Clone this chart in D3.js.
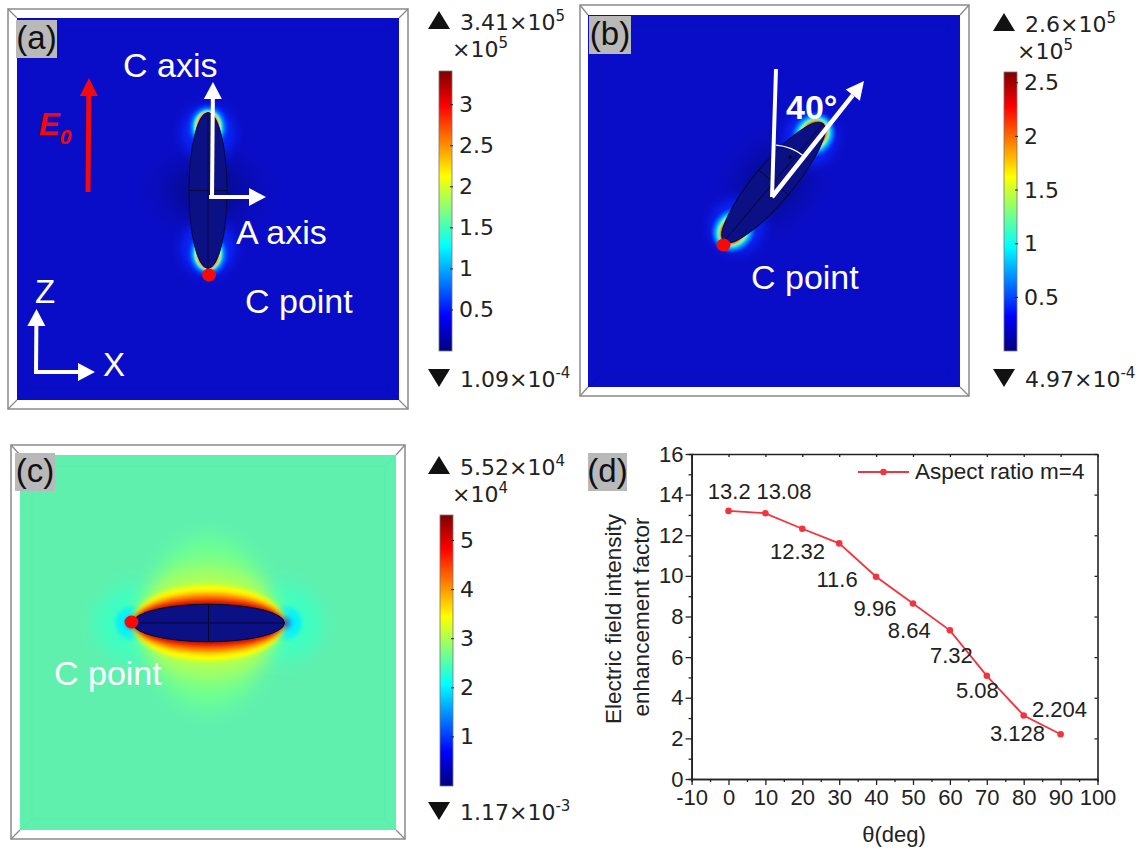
<!DOCTYPE html>
<html>
<head>
<meta charset="utf-8">
<script src="https://cdn.jsdelivr.net/npm/d3@7"></script>
<style>
  html, body { margin: 0; padding: 0; background: #fff; }
  svg { display: block; }
  text { font-family: "Liberation Sans", Arial, sans-serif; }
  .comsol text { font-family: "DejaVu Sans", sans-serif; }
</style>
</head>
<body>
<div id="chart"></div>
<script>
// panel (d) data
var THETA = [0, 10, 20, 30, 40, 50, 60, 70, 80, 90];
var FACTOR = [13.2, 13.08, 12.32, 11.6, 9.96, 8.64, 7.32, 5.08, 3.128, 2.204];
var FACTOR_LABELS = ["13.2", "13.08", "12.32", "11.6", "9.96", "8.64", "7.32", "5.08", "3.128", "2.204"];
var X_TICKS = [-10, 0, 10, 20, 30, 40, 50, 60, 70, 80, 90, 100];
var Y_TICKS = [0, 2, 4, 6, 8, 10, 12, 14, 16];

// colour bars
var JET = ["#00007f", "#0000ff", "#007fff", "#00ffff", "#7fff7f", "#ffff00", "#ff7f00", "#ff0000", "#7f0000"];
var BAR_A_TICKS = [0.5, 1, 1.5, 2, 2.5, 3];
var BAR_B_TICKS = [0.5, 1, 1.5, 2, 2.5];
var BAR_C_TICKS = [1, 2, 3, 4, 5];
var BAR_A_MAX = 3.41;
var BAR_B_MAX = 2.6;
var BAR_C_MAX = 5.52;

// field contours, values in colour bar units
// half sizes are in units of the particle's long semi axis
var TIP_VALUES = [0.6, 0.85, 1.15, 1.6, 2.1, 2.8];
var TIP_LONG = [0.29, 0.255, 0.225, 0.21, 0.2, 0.19];
var TIP_SHORT = [0.26, 0.22, 0.19, 0.17, 0.155, 0.14];

var HOT_VALUES = [2.65, 2.8, 3.05, 3.45, 3.95, 4.5, 5.2];
var HOT_LONG = [0.85, 0.9, 0.95, 1.0, 1.0, 1.0, 1.0];
var HOT_SHORT = [1.15, 0.85, 0.66, 0.5, 0.41, 0.35, 0.29];
var COLD_VALUES = [2.4, 2.0, 1.5, 0.8];
var COLD_SIZE = [0.5, 0.22, 0.1, 0.05];

var width = 1143, height = 850;
var svg = d3.select("#chart").append("svg")
  .attr("width", width)
  .attr("height", height);

var defs = svg.append("defs");
function addBlur(id, amount){
  defs.append("filter").attr("id", id).attr("x", "-60%").attr("y", "-60%").attr("width", "220%").attr("height", "220%")
    .append("feGaussianBlur").attr("stdDeviation", amount);
}
addBlur("blur1", 1.2);
addBlur("blur2", 2);
addBlur("blur8", 9);

var dark = defs.append("radialGradient").attr("id", "darkGlow");
dark.append("stop").attr("offset", "0%").attr("stop-color", "#060a70").attr("stop-opacity", 0.85);
dark.append("stop").attr("offset", "35%").attr("stop-color", "#060a80").attr("stop-opacity", 0.55);
dark.append("stop").attr("offset", "100%").attr("stop-color", "#0a0dc8").attr("stop-opacity", 0);
var bright = defs.append("radialGradient").attr("id", "tipHalo");
bright.append("stop").attr("offset", "0%").attr("stop-color", "#0a40ff").attr("stop-opacity", 1);
bright.append("stop").attr("offset", "60%").attr("stop-color", "#0a22f4").attr("stop-opacity", 0.85);
bright.append("stop").attr("offset", "100%").attr("stop-color", "#0a0dc8").attr("stop-opacity", 0);

var jetScale = d3.scaleLinear()
  .domain(JET.map(function(d, i){ return i / (JET.length - 1); }))
  .range(JET);

function arrowHead(g, x1, y1, x2, y2, color, w, len){
  var a = Math.atan2(y2 - y1, x2 - x1);
  var bx = x2 - len * Math.cos(a), by = y2 - len * Math.sin(a);
  var px = Math.sin(a) * w / 2, py = -Math.cos(a) * w / 2;
  g.append("path")
    .attr("d", "M" + x2 + "," + y2 + "L" + (bx + px) + "," + (by + py) + "L" + (bx - px) + "," + (by - py) + "Z")
    .attr("fill", color);
  return [bx, by];
}

function arrow(g, x1, y1, x2, y2, color, sw, w, len){
  var b = arrowHead(g, x1, y1, x2, y2, color, w, len);
  g.append("line")
    .attr("x1", x1).attr("y1", y1).attr("x2", b[0]).attr("y2", b[1])
    .attr("stroke", color).attr("stroke-width", sw);
}

// white frame around a field with the darker inner square
function frame(g, o, f, inner, fill, innerStroke){
  g.append("rect").attr("x", o[0]).attr("y", o[1]).attr("width", o[2] - o[0]).attr("height", o[3] - o[1])
    .attr("fill", "#fff").attr("stroke", "#8a8a8a").attr("stroke-width", 1.5);
  g.append("rect").attr("x", f[0]).attr("y", f[1]).attr("width", f[2] - f[0]).attr("height", f[3] - f[1])
    .attr("fill", fill);
  g.append("rect").attr("x", inner[0]).attr("y", inner[1]).attr("width", inner[2] - inner[0]).attr("height", inner[3] - inner[1])
    .attr("fill", "none").attr("stroke", innerStroke).attr("stroke-width", 1);
  var corners = [[0, 1], [2, 1], [0, 3], [2, 3]];
  corners.forEach(function(c){
    g.append("line").attr("x1", o[c[0]]).attr("y1", o[c[1]]).attr("x2", f[c[0]]).attr("y2", f[c[1]])
      .attr("stroke", "#8a8a8a").attr("stroke-width", 1.3);
    g.append("line").attr("x1", f[c[0]]).attr("y1", f[c[1]]).attr("x2", inner[c[0]]).attr("y2", inner[c[1]])
      .attr("stroke", innerStroke).attr("stroke-width", 1);
  });
}

function panelLabel(x, y, w, h, txt){
  svg.append("rect").attr("x", x).attr("y", y).attr("width", w).attr("height", h).attr("fill", "#b9b9b9");
  svg.append("text").attr("x", x + w / 2).attr("y", y + h - 9).attr("text-anchor", "middle")
    .attr("font-size", 33).attr("fill", "#111").text(txt);
}

function label(g, x, y, txt, size, color){
  return g.append("text").attr("x", x).attr("y", y).attr("font-size", size)
    .attr("fill", color || "#fff").text(txt);
}

// tick bar with the triangles, like comsol draws it
function colorBar(opts){
  var g = svg.append("g").attr("class", "comsol");
  var id = "bar" + opts.id;
  var grad = defs.append("linearGradient").attr("id", id).attr("x1", 0).attr("y1", 1).attr("x2", 0).attr("y2", 0);
  JET.forEach(function(c, i){
    grad.append("stop").attr("offset", (100 * i / (JET.length - 1)) + "%").attr("stop-color", c);
  });
  var y = d3.scaleLinear().domain([0, opts.max]).range([opts.bottom, opts.top]);
  g.append("rect").attr("x", opts.x).attr("y", opts.top).attr("width", 13).attr("height", opts.bottom - opts.top)
    .attr("fill", "url(#" + id + ")").attr("stroke", "#777").attr("stroke-width", 0.8);
  var axis = d3.axisRight(y).tickValues(opts.ticks).tickSize(0).tickPadding(7).tickFormat(function(d){ return d; });
  var ag = g.append("g").attr("transform", "translate(" + (opts.x + 13) + ",0)").call(axis);
  ag.select(".domain").remove();
  ag.selectAll("text").attr("font-size", 22).attr("fill", "#222").attr("font-family", "DejaVu Sans");
  g.selectAll("line.mark").data(opts.ticks).join("line").attr("class", "mark")
    .attr("x1", opts.x + 11).attr("x2", opts.x + 14)
    .attr("y1", function(d){ return y(d); }).attr("y2", function(d){ return y(d); })
    .attr("stroke", "#222").attr("stroke-width", 1);

  var t = opts.triX;
  g.append("path").attr("d", "M" + (t + 11) + "," + opts.upY + "l11,18h-22z").attr("fill", "#111");
  g.append("path").attr("d", "M" + (t + 11) + "," + (opts.downY + 18) + "l11,-18h-22z").attr("fill", "#111");

  function sci(x, yy, lead, exp){
    var tx = g.append("text").attr("x", x).attr("y", yy).attr("font-size", 22).attr("fill", "#222");
    tx.append("tspan").text(lead);
    tx.append("tspan").attr("dy", -9).attr("font-size", 15).text(exp);
  }
  sci(t + 32, opts.upY + 19, opts.maxLabel + "\u00d710", opts.maxExp);
  sci(t + 24, opts.upY + 46, "\u00d710", opts.maxExp);
  sci(t + 32, opts.downY + 18, opts.minLabel + "\u00d710", opts.minExp);
}

// glow at one particle tip, drawn as nested contours
function tipGlow(g, unit, tipSign, barMax){
  var idx = d3.range(TIP_VALUES.length);
  g.append("ellipse")
    .attr("cy", tipSign * unit(0.74))
    .attr("rx", unit(0.5)).attr("ry", unit(0.5))
    .attr("fill", "url(#tipHalo)");
  g.append("g").attr("filter", "url(#blur1)")
    .selectAll("ellipse").data(idx).join("ellipse")
    .attr("cx", 0)
    .attr("cy", function(){ return tipSign * unit(0.81); })
    .attr("rx", function(i){ return unit(TIP_SHORT[i]); })
    .attr("ry", function(i){ return unit(TIP_LONG[i]); })
    .attr("fill", function(i){ return jetScale(TIP_VALUES[i] / barMax); });
}

// particle with its two cross lines, long axis along local y
function particle(g, unit, aspect, stroke){
  g.append("ellipse").attr("rx", unit(1 / aspect)).attr("ry", unit(1))
    .attr("fill", "#0c1085").attr("stroke", stroke).attr("stroke-width", 1);
  g.append("line").attr("x1", -unit(1 / aspect)).attr("x2", unit(1 / aspect)).attr("y1", 0).attr("y2", 0)
    .attr("stroke", stroke).attr("stroke-width", 1);
  g.append("line").attr("x1", 0).attr("x2", 0).attr("y1", -unit(1)).attr("y2", unit(1))
    .attr("stroke", stroke).attr("stroke-width", 1);
}

/* ---------- panel a ---------- */
var a = svg.append("g");
frame(a, [8, 9, 408, 409], [17, 18, 399, 400], [29, 30, 388, 388], "#0a0dc8", "#0a0cb4");
var unitA = d3.scaleLinear().domain([0, 1]).range([0, 78]);
var partA = a.append("g").attr("transform", "translate(208,190.5)");
partA.append("ellipse").attr("rx", 82).attr("ry", 62).attr("fill", "url(#darkGlow)");
tipGlow(partA, unitA, -1, BAR_A_MAX);
tipGlow(partA, unitA, 1, BAR_A_MAX);
particle(partA, unitA, 4.1, "#060a3c");
a.append("ellipse").attr("cx", 209).attr("cy", 275).attr("rx", 7).attr("ry", 6.5).attr("fill", "#f80808");
arrow(a, 88, 192, 89, 78, "#f40a0a", 5, 18, 18);
var e0 = label(a, 39, 135, "E", 31, "#f00a0a").attr("font-weight", "bold").attr("font-style", "italic");
e0.append("tspan").attr("dy", 9).attr("font-size", 21).text("0");
arrow(a, 212, 198, 213, 82, "#fff", 4, 18, 17);
arrow(a, 209, 197, 266, 197, "#fff", 4, 18, 17);
arrow(a, 36, 374, 36.5, 309, "#fff", 4, 18, 17);
arrow(a, 34, 372, 95, 372, "#fff", 4, 18, 17);
label(a, 123, 77, "C axis", 34);
label(a, 236, 244, "A axis", 34);
label(a, 245, 313, "C point", 34);
label(a, 35, 303, "Z", 33);
label(a, 103, 376, "X", 33);
panelLabel(16, 20, 41, 38, "(a)");

/* ---------- panel b ---------- */
var b = svg.append("g");
frame(b, [580, 5, 969, 396], [588, 15, 960, 387], [600, 26, 949, 376], "#0a0dc8", "#0a0cb4");
var unitB = d3.scaleLinear().domain([0, 1]).range([0, 77]);
var partB = b.append("g").attr("transform", "translate(773.5,182.5) rotate(40)");
partB.append("ellipse").attr("rx", 62).attr("ry", 80).attr("fill", "url(#darkGlow)");
tipGlow(partB, unitB, -1, BAR_B_MAX);
tipGlow(partB, unitB, 1, BAR_B_MAX);
particle(partB, unitB, 4, "#060a3c");
b.append("circle").attr("cx", 790).attr("cy", 157).attr("r", 1.6).attr("fill", "#000");
b.append("ellipse").attr("cx", 723.5).attr("cy", 245).attr("rx", 7).attr("ry", 6.5).attr("fill", "#f80808");
b.append("line").attr("x1", 776).attr("y1", 69).attr("x2", 772).attr("y2", 197)
  .attr("stroke", "#fff").attr("stroke-width", 4);
arrow(b, 772, 197, 864, 81, "#fff", 4.5, 18, 18);
b.append("path")
  .attr("transform", "translate(772,196)")
  .attr("d", d3.arc()({ innerRadius: 51, outerRadius: 51, startAngle: 0.08, endAngle: 0.66 }))
  .attr("fill", "none").attr("stroke", "#fff").attr("stroke-width", 1.4);
label(b, 786, 119, "40\u00b0", 34).attr("font-weight", "bold");
label(b, 751, 289, "C point", 34);
panelLabel(589, 16, 42, 38, "(b)");

/* ---------- panel c ---------- */
var c = svg.append("g");
frame(c, [11, 445, 405, 839], [20, 455, 396, 830], [32, 466, 385, 819], "#60f0ae", "#56ebaf");
var unitC = d3.scaleLinear().domain([0, 1]).range([0, 76]);
var partC = c.append("g").attr("transform", "translate(208.5,623)");

function contourLayer(parent, filter, idx, vals, rxVals, ryVals, cx){
  parent.append("g").attr("filter", filter)
    .selectAll("ellipse").data(idx).join("ellipse")
    .attr("cx", cx)
    .attr("rx", function(i){ return unitC(rxVals[i]); })
    .attr("ry", function(i){ return unitC(ryVals[i]); })
    .attr("fill", function(i){ return jetScale(vals[i] / BAR_C_MAX); });
}
[-1, 1].forEach(function(s){
  contourLayer(partC, "url(#blur8)", [0], COLD_VALUES, COLD_SIZE, COLD_SIZE, s * unitC(1));
  contourLayer(partC, "url(#blur2)", [1, 2, 3], COLD_VALUES, COLD_SIZE, COLD_SIZE, s * unitC(1));
});
contourLayer(partC, "url(#blur8)", [0, 1, 2], HOT_VALUES, HOT_LONG, HOT_SHORT, 0);
contourLayer(partC, "url(#blur2)", [3, 4, 5, 6], HOT_VALUES, HOT_LONG, HOT_SHORT, 0);
var innerC = partC.append("g").attr("transform", "rotate(90)");
particle(innerC, unitC, 4.05, "#04062a");
c.append("ellipse").attr("cx", 131.5).attr("cy", 622).attr("rx", 7).attr("ry", 6.5).attr("fill", "#f80808");
label(c, 54, 685, "C point", 34);
panelLabel(15, 453, 40, 38, "(c)");

/* ---------- colour bars ---------- */
colorBar({ id: "a", x: 439, top: 71, bottom: 351, max: BAR_A_MAX, ticks: BAR_A_TICKS, triX: 428, upY: 11, downY: 369,
  maxLabel: "3.41", maxExp: "5", minLabel: "1.09", minExp: "-4" });
colorBar({ id: "b", x: 1004, top: 72, bottom: 351, max: BAR_B_MAX, ticks: BAR_B_TICKS, triX: 993, upY: 13, downY: 369,
  maxLabel: "2.6", maxExp: "5", minLabel: "4.97", minExp: "-4" });
colorBar({ id: "c", x: 440, top: 515, bottom: 786, max: BAR_C_MAX, ticks: BAR_C_TICKS, triX: 428, upY: 456, downY: 802,
  maxLabel: "5.52", maxExp: "4", minLabel: "1.17", minExp: "-3" });

/* ---------- panel d ---------- */
var d = svg.append("g");
var xScale = d3.scaleLinear().domain([-10, 100]).range([691.6, 1097.5]);
var yScale = d3.scaleLinear().domain([0, 16]).range([779, 454]);
var xMinor = d3.range(-5, 100, 10);
var yMinor = d3.range(1, 16, 2);

function styleAxis(g){
  g.selectAll(".domain").attr("stroke", "#222").attr("stroke-width", 1.6);
  g.selectAll("line").attr("stroke", "#222").attr("stroke-width", 1.3);
  g.selectAll("text").attr("font-size", 22).attr("fill", "#222").attr("font-family", "Liberation Sans");
}
function plainTick(v){ return String(v); }

// bottom and left read outward, top and right have inward ticks only
d.append("g").attr("transform", "translate(0,779)")
  .call(d3.axisBottom(xScale).tickValues(xMinor).tickSize(3).tickFormat(""))
  .call(styleAxis);
d.append("g").attr("transform", "translate(0,779)")
  .call(d3.axisBottom(xScale).tickValues(X_TICKS).tickSize(6).tickSizeOuter(0).tickPadding(4).tickFormat(plainTick))
  .call(styleAxis);
d.append("g").attr("transform", "translate(691.6,0)")
  .call(d3.axisLeft(yScale).tickValues(yMinor).tickSize(3).tickFormat(""))
  .call(styleAxis);
d.append("g").attr("transform", "translate(691.6,0)")
  .call(d3.axisLeft(yScale).tickValues(Y_TICKS).tickSize(6).tickSizeOuter(0).tickPadding(2).tickFormat(plainTick))
  .call(styleAxis);
d.append("g").attr("transform", "translate(0,454)")
  .call(d3.axisBottom(xScale).tickValues(X_TICKS).tickSize(3).tickSizeOuter(0).tickFormat(""))
  .call(styleAxis);
d.append("g").attr("transform", "translate(1097.5,0)")
  .call(d3.axisRight(yScale).tickValues(Y_TICKS).tickSize(-3).tickSizeOuter(0).tickFormat(""))
  .call(styleAxis);

var lineColor = "#f2343f";
var lineGen = d3.line()
  .x(function(v, i){ return xScale(THETA[i]); })
  .y(function(v){ return yScale(v); });
d.append("path").datum(FACTOR).attr("d", lineGen)
  .attr("fill", "none").attr("stroke", lineColor).attr("stroke-width", 1.8);
d.selectAll("circle.pt").data(FACTOR).join("circle").attr("class", "pt")
  .attr("cx", function(v, i){ return xScale(THETA[i]); })
  .attr("cy", function(v){ return yScale(v); })
  .attr("r", 3.3).attr("fill", lineColor);

// value labels sit by hand around the points
var labelDx = [-20.7, -9, -32.3, -22.7, -22.5, -25.2, -19.9, -30.8, -33.7, -28.6];
var labelDy = [-12, -14, 30, 44, 39, 34.5, 33, 22, 25.5, -17];
d.selectAll("text.val").data(FACTOR_LABELS).join("text").attr("class", "val")
  .attr("x", function(t, i){ return xScale(THETA[i]) + labelDx[i]; })
  .attr("y", function(t, i){ return yScale(FACTOR[i]) + labelDy[i]; })
  .attr("font-size", 22).attr("fill", "#222")
  .text(function(t){ return t; });

// legend
d.append("line").attr("x1", 858).attr("x2", 909).attr("y1", 472).attr("y2", 472)
  .attr("stroke", lineColor).attr("stroke-width", 1.8);
d.append("circle").attr("cx", 883.5).attr("cy", 472).attr("r", 3.3).attr("fill", lineColor);
label(d, 915, 479, "Aspect ratio m=4", 22.5, "#222");

// axis titles
d.append("text").attr("transform", "translate(621,619) rotate(-90)").attr("text-anchor", "middle")
  .attr("font-size", 22.5).attr("fill", "#222").text("Electric field intensity");
d.append("text").attr("transform", "translate(649,617) rotate(-90)").attr("text-anchor", "middle")
  .attr("font-size", 22.5).attr("fill", "#222").text("enhancement factor");
d.append("text").attr("x", 894).attr("y", 842).attr("text-anchor", "middle")
  .attr("font-size", 22).attr("fill", "#222").text("\u03b8(deg)");
panelLabel(588, 453, 39, 38, "(d)");
</script>
</body>
</html>
